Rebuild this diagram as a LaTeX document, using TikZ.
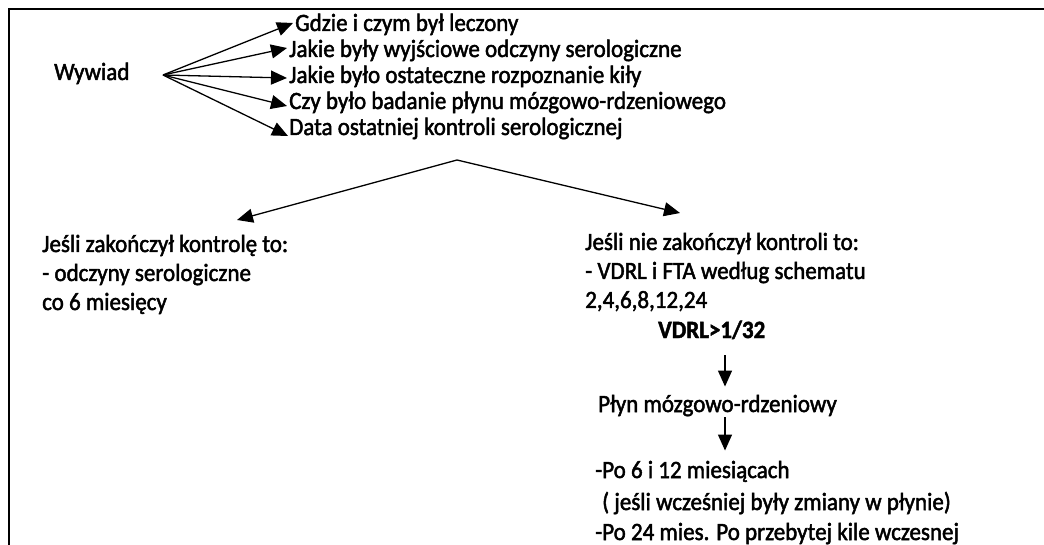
\documentclass[tikz,border=0pt]{standalone}
\usepackage{graphicx}
\usepackage{fontspec}
\setmainfont{Carlito}
\newfontfamily\rgfont{Carlito}[FakeBold=2]
\usetikzlibrary{arrows.meta}
\newcommand{\tallx}[1]{\scalebox{1}[1.08]{#1}}
\begin{document}
\begin{tikzpicture}[x=1pt,y=-1pt,
  txt/.style={anchor=base west,inner sep=0pt,font=\rgfont\fontsize{23}{28}\selectfont},
  bld/.style={anchor=base west,inner sep=0pt,font=\rgfont\fontsize{23}{28}\selectfont\bfseries},
  arr/.style={line width=1.3pt,-{Triangle[length=16pt,width=14pt]}},
]
\useasboundingbox (0,0) rectangle (1044,545);
\clip (0,0) rectangle (1044,545);
\draw[line width=2.2pt] (9,600) -- (9,9) -- (1100,9);

% top list
\node[txt] (wy) at (54,80) {\tallx{Wywiad}};
\node[txt] (g1) at (295,31) {\tallx{Gdzie i czym był leczony}};
\node[txt] (g2) at (289,57) {\tallx{Jakie były wyjściowe odczyny serologiczne}};
\node[txt] (g3) at (289,83) {\tallx{Jakie było ostateczne rozpoznanie kiły}};
\node[txt] (g4) at (289,109) {\tallx{Czy było badanie płynu mózgowo-rdzeniowego}};
\node[txt] (g5) at (289,135) {\tallx{Data ostatniej kontroli serologicznej}};

\coordinate (w) at (163,75);
\draw[arr] (w) -- ([xshift=-2pt,yshift=8pt]g1.base west);
\draw[arr] (w) -- ([xshift=-2pt,yshift=9pt]g2.base west);
\draw[arr] (w) -- ([xshift=-2pt,yshift=5pt]g3.base west);
\draw[arr] (w) -- ([xshift=-2pt,yshift=3pt]g4.base west);
\draw[arr] (w) -- ([xshift=-1pt,yshift=-1pt]g5.base west);

% branches
\node[txt] (l1) at (42,252) {\tallx{Jeśli zakończył kontrolę to:}};
\node[txt] (l2) at (42,281) {\tallx{- odczyny serologiczne}};
\node[txt] (l3) at (42,310) {\tallx{co 6 miesięcy}};

\node[txt] (r1) at (585,250) {\tallx{Jeśli nie zakończył kontroli to:}};
\node[txt] (r2) at (585,279) {\tallx{- VDRL i FTA według schematu}};
\node[txt] (r3) at (585,308) {\tallx{2,4,6,8,12,24}};
\node[bld] (r4) at (658,338) {\tallx{VDRL>1/32}};

\coordinate (ap) at ([xshift=168pt,yshift=-25pt]g5.base west);
\draw[arr] (ap) -- ([xshift=195pt,yshift=32pt]l1.base west);
\draw[arr] (ap) -- ([xshift=95pt,yshift=37pt]r1.base west);

\node[txt] (p) at (598,412) {\tallx{Płyn mózgowo-rdzeniowy}};
\node[txt] (b1) at (595,478) {\tallx{-Po 6 i 12 miesiącach}};
\node[txt] (b2) at (602,510) {\tallx{( jeśli wcześniej były zmiany w płynie)}};
\node[txt] (b3) at (595,540) {\tallx{-Po 24 mies. Po przebytej kile wczesnej}};

\coordinate (v) at (725,0);
\draw[arr] ([yshift=-17pt]r4.base -| v) -- ([yshift=8pt]p.north -| v);
\draw[arr] ([yshift=-5pt]p.base -| v) -- ([yshift=10pt]b1.north -| v);
\end{tikzpicture}
\end{document}
